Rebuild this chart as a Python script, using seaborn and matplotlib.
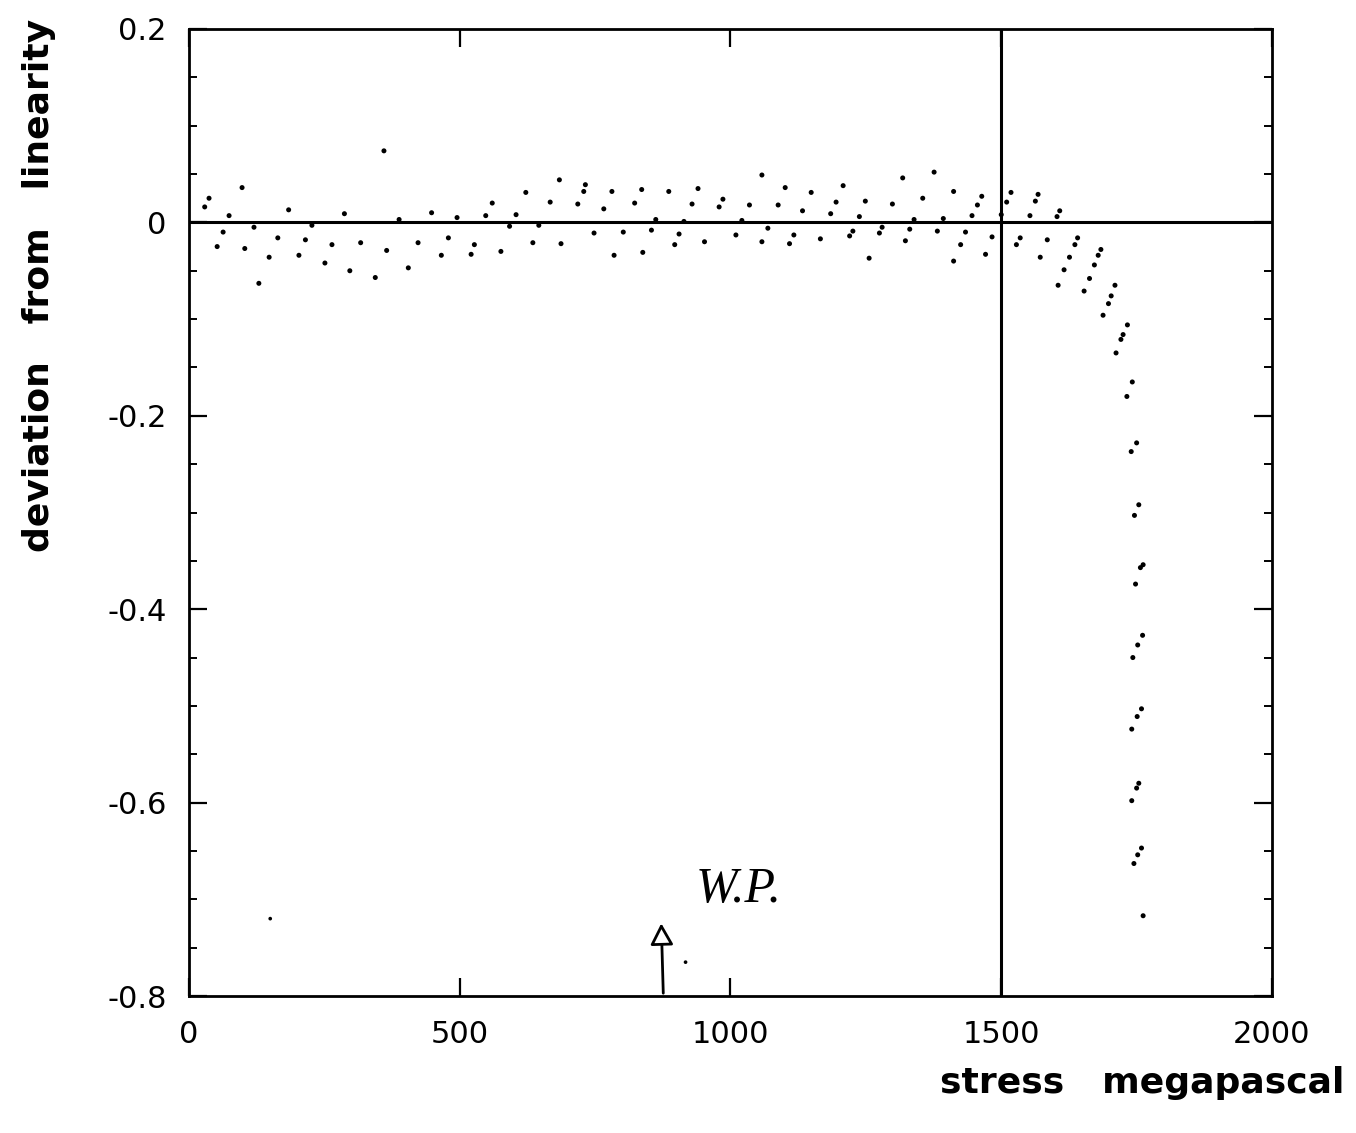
import numpy as np
import pandas as pd
import seaborn as sns
import matplotlib.pyplot as plt
from matplotlib.ticker import MultipleLocator

# stress (MPa) and deviation from linearity
stress = [29, 37, 52, 63, 74, 98, 103, 120, 129, 148, 164, 184, 203, 215, 227,
          251, 264, 287, 297, 317, 344, 360, 365, 388, 405, 423, 448, 466, 479,
          495, 521, 527, 548, 560, 576, 592, 604, 622, 635, 646, 667, 684, 687,
          718, 729, 732, 748, 766, 781, 785, 802, 823, 836, 838, 854, 862, 886,
          897, 905, 914, 929, 940, 952, 979, 986, 1010, 1021, 1035, 1058, 1058,
          1069, 1088, 1101, 1109, 1117, 1133, 1149, 1166, 1185, 1195, 1208,
          1220, 1226, 1238, 1249, 1256, 1275, 1280, 1299, 1318, 1323, 1331,
          1339, 1355, 1376, 1382, 1393, 1412, 1412, 1425, 1434, 1446, 1456,
          1464, 1471, 1483, 1500, 1510, 1518, 1528, 1535, 1553, 1563, 1568,
          1572, 1585, 1603, 1608, 1605, 1616, 1626, 1636, 1641, 1653, 1663,
          1672, 1679, 1684, 1688, 1698, 1703, 1710, 1712, 1721, 1725, 1733,
          1732, 1742, 1740, 1750, 1746, 1754, 1748, 1757, 1762, 1743, 1752,
          1761, 1741, 1751, 1759, 1741, 1750, 1754, 1745, 1752, 1759, 1762]
deviation = [0.016, 0.025, -0.025, -0.010, 0.007, 0.036, -0.027, -0.005, -0.063,
             -0.036, -0.016, 0.013, -0.034, -0.018, -0.003, -0.042, -0.023,
             0.009, -0.050, -0.021, -0.057, 0.074, -0.029, 0.003, -0.047,
             -0.021, 0.010, -0.034, -0.016, 0.005, -0.033, -0.023, 0.007,
             0.020, -0.030, -0.004, 0.008, 0.031, -0.021, -0.003, 0.021, 0.044,
             -0.022, 0.019, 0.032, 0.039, -0.011, 0.014, 0.032, -0.034, -0.010,
             0.020, 0.034, -0.031, -0.008, 0.003, 0.032, -0.023, -0.012, 0.001,
             0.019, 0.035, -0.020, 0.016, 0.024, -0.013, 0.002, 0.018, 0.049,
             -0.020, -0.006, 0.018, 0.036, -0.022, -0.013, 0.012, 0.031, -0.017,
             0.009, 0.021, 0.038, -0.014, -0.009, 0.006, 0.022, -0.037, -0.011,
             -0.005, 0.019, 0.046, -0.019, -0.007, 0.003, 0.025, 0.052, -0.009,
             0.004, 0.032, -0.040, -0.023, -0.010, 0.007, 0.018, 0.027, -0.033,
             -0.015, 0.008, 0.021, 0.031, -0.023, -0.016, 0.007, 0.022, 0.029,
             -0.036, -0.018, 0.006, 0.012, -0.065, -0.049, -0.036, -0.023,
             -0.016, -0.071, -0.058, -0.044, -0.034, -0.028, -0.096, -0.084,
             -0.076, -0.065, -0.135, -0.121, -0.116, -0.106, -0.180, -0.165,
             -0.237, -0.228, -0.303, -0.292, -0.374, -0.357, -0.354, -0.450,
             -0.437, -0.427, -0.524, -0.511, -0.503, -0.598, -0.585, -0.580,
             -0.663, -0.654, -0.647, -0.717]

# two stray specks on the scan
speck_stress = [150, 917]
speck_dev = [-0.720, -0.765]

x_ticks = [0, 500, 1000, 1500, 2000]
y_ticks = [0.2, 0, -0.2, -0.4, -0.6, -0.8]
y_tick_labels = ['0.2', '0', '-0.2', '-0.4', '-0.6', '-0.8']

df = pd.DataFrame({'stress': stress, 'deviation': deviation})
specks = pd.DataFrame({'stress': speck_stress, 'deviation': speck_dev})

sns.set_style('white')
plt.rcParams['font.family'] = ['DejaVu Sans']
plt.rcParams['text.color'] = 'black'
plt.rcParams['axes.labelcolor'] = 'black'
plt.rcParams['xtick.color'] = 'black'
plt.rcParams['ytick.color'] = 'black'

fig = plt.figure(figsize=(13.56, 11.33), dpi=100)
ax = fig.add_axes([189 / 1356, 1 - 996 / 1133, 1083 / 1356, 967 / 1133])

sns.scatterplot(data=df, x='stress', y='deviation', ax=ax, s=13,
                color='black', edgecolor='none', legend=False)
sns.scatterplot(data=specks, x='stress', y='deviation', ax=ax, s=7,
                color='black', edgecolor='none', legend=False)

ax.axhline(0, color='black', lw=2.2)
ax.axvline(1500, color='black', lw=2.2)

ax.set_xlim(0, 2000)
ax.set_ylim(-0.8, 0.2)
ax.set_xticks(x_ticks)
ax.set_xticklabels([str(t) for t in x_ticks])
ax.set_yticks(y_ticks)
ax.set_yticklabels(y_tick_labels)
ax.yaxis.set_minor_locator(MultipleLocator(0.05))

for s in ax.spines.values():
    s.set_visible(True)
    s.set_linewidth(2)
    s.set_color('black')

ax.tick_params(axis='x', which='major', direction='in', length=13, width=1.6,
               top=True, bottom=True, pad=17, labelsize=22)
ax.tick_params(axis='y', which='major', direction='in', length=13, width=1.6,
               left=True, right=True, pad=16, labelsize=22)
ax.tick_params(axis='y', which='minor', direction='in', length=6, width=1.4,
               left=True, right=True)

ax.set_xlabel('stress   megapascal', fontsize=26, fontweight='bold', loc='right')
ax.xaxis.set_label_coords(1.067, -0.072)
ax.set_ylabel('deviation   from   linearity', fontsize=26, fontweight='bold',
              loc='top')
ax.yaxis.set_label_coords(-0.123, 1.01)

# handwritten note with hollow arrow
ax.annotate('', xy=(872, -0.722), xytext=(876, -0.8),
            arrowprops=dict(arrowstyle='-|>,head_length=1.3,head_width=0.7',
                            fc='white', ec='black', lw=2))
ax.text(935, -0.69, 'W.P.', fontsize=36, style='italic',
        family=['Liberation Serif', 'DejaVu Serif'], ha='left', va='center')

fig.savefig('out.png', dpi=100, facecolor='white')
